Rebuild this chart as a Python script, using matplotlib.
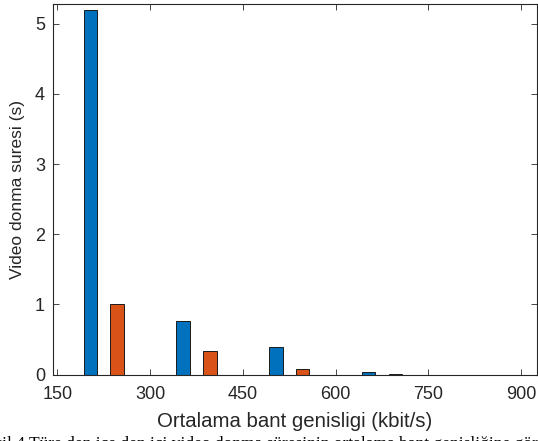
"""
Video donma suresi - ortalama bant genisligi (MATLAB tarzi gruplu cubuk grafik)
"""
import numpy as np
import matplotlib
matplotlib.use('Agg')
import matplotlib.pyplot as plt

# ============ veri ============
group_centers = [225, 375, 525, 675]          # kbit/s
freeze_blue = [5.2, 0.77, 0.39, 0.03]         # 1. seri (s)
freeze_orange = [1.0, 0.33, 0.08, 0.015]      # 2. seri (s)
x_ticks = [150, 300, 450, 600, 750, 900]
y_ticks = [0, 1, 2, 3, 4, 5]

caption = "Şekil 4 Türe den içe den içi video donma süresinin ortalama bant genişliğine göre değişimi"

# ============ cizim ============
plt.rcParams['font.family'] = ['Liberation Sans', 'DejaVu Sans']
AX_COLOR = '#262626'

fig = plt.figure(figsize=(5.38, 4.41), dpi=100)
ax = fig.add_axes([0.098, 0.1506, 0.9007, 0.8403])

centers = np.array(group_centers, dtype=float)
offset = 21.5
width = 21.8
ax.bar(centers - offset, freeze_blue, width=width, color='#0072BD',
       edgecolor='#1a1a1a', linewidth=0.7)
ax.bar(centers + offset, freeze_orange, width=width, color='#D95319',
       edgecolor='#1a1a1a', linewidth=0.7)

ax.set_xlim(142.6, 926)
ax.set_ylim(0, 5.28)
ax.set_xticks(x_ticks)
ax.set_yticks(y_ticks)

ax.tick_params(direction='in', length=4, width=0.6, colors=AX_COLOR,
               labelsize=13, top=True, right=True)
ax.tick_params(axis='x', pad=8)
ax.tick_params(axis='y', pad=5.5)
for sp in ax.spines.values():
    sp.set_color(AX_COLOR)
    sp.set_linewidth(0.8)

ax.set_xlabel('Ortalama bant genisligi (kbit/s)', fontsize=14.7,
              color=AX_COLOR, labelpad=7)
ax.set_ylabel('Video donma suresi (s)', fontsize=12.5, color=AX_COLOR,
              labelpad=7)

# alt kisimdaki kirpilmis makale basligi
fig.text(-0.045, -0.015, caption, fontsize=12.5, family='Liberation Serif',
         color='black', ha='left', va='baseline')

plt.savefig('out.png', dpi=100)
plt.close()
